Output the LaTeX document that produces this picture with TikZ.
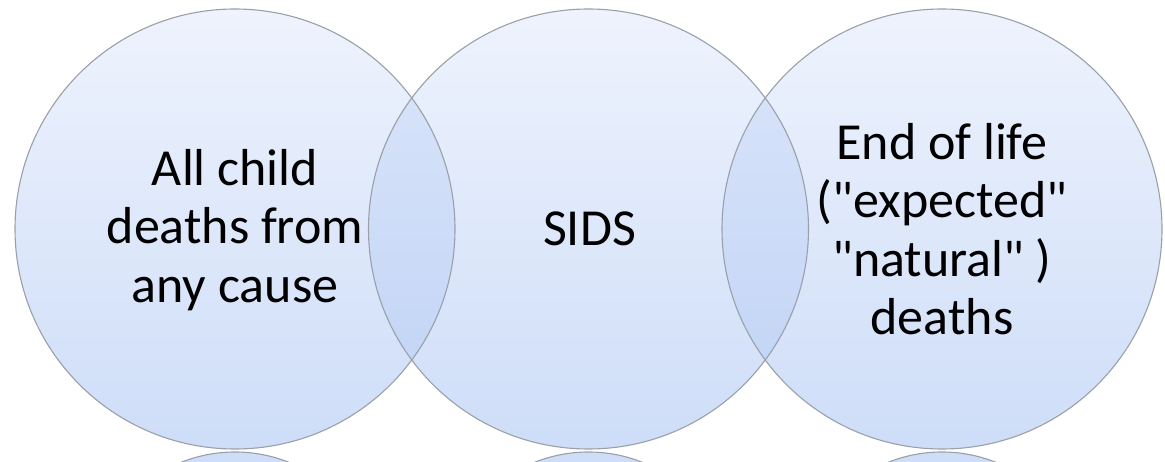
\documentclass[tikz,border=0pt]{standalone}
\usepackage{fontspec}
\setmainfont{Carlito}[Ligatures=TeXOff]
\begin{document}
\begin{tikzpicture}[x=1pt,y=-1pt]
\definecolor{ctop}{HTML}{EEF3FD}
\definecolor{cbot}{HTML}{CEDDF8}
\definecolor{ltop}{HTML}{DCE6FA}
\definecolor{lbot}{HTML}{BED2F5}
\definecolor{edgec}{HTML}{9AA0A8}
\tikzset{
  disc/.style={top color=ctop,bottom color=cbot},
  lens/.style={top color=ltop,bottom color=lbot},
  rim/.style={draw=edgec,line width=1.1pt},
  refl/.style={fill=cbot,draw=edgec,line width=1.1pt},
  txt/.style={align=center,inner sep=0pt,font=\fontsize{52}{58.5}\selectfont,text=black}
}
\useasboundingbox (0,0) rectangle (1165,462);
\coordinate (c1) at (235,229);
\coordinate (c2) at (588.5,229);
\coordinate (c3) at (942,229);
% reflections
\begin{scope}
  \clip (0,0) rectangle (1165,462);
  \path[refl] (235,597) circle[radius=145];
  \path[refl] (588.5,597) circle[radius=145];
  \path[refl] (942,597) circle[radius=145];
\end{scope}
% discs
\shade[disc] (c1) circle[radius=220];
\shade[disc] (c2) circle[radius=220];
\shade[disc] (c3) circle[radius=220];
% overlaps
\begin{scope}
  \clip (c1) circle[radius=220];
  \shade[lens] (c2) circle[radius=220];
\end{scope}
\begin{scope}
  \clip (c2) circle[radius=220];
  \shade[lens] (c3) circle[radius=220];
\end{scope}
% outlines
\path[rim] (c1) circle[radius=220];
\path[rim] (c2) circle[radius=220];
\path[rim] (c3) circle[radius=220];
% texts
\node[txt] (t1) at (235,230) {All child\\deaths from\\any cause};
\node[txt] (t2) at (589.5,229) {SIDS};
\node[txt] (t3) at (942,229) {End of life\\("expected"\\"natural" )\\deaths};
\end{tikzpicture}
\end{document}
